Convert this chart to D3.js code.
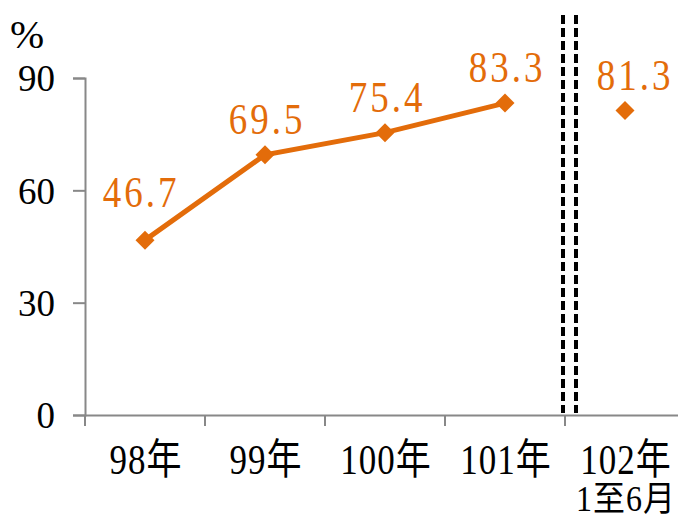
<!DOCTYPE html>
<html>
<head>
<meta charset="utf-8">
<script src="https://cdn.jsdelivr.net/npm/d3@7"></script>
<style>
  body { margin: 0; background: #fff; }
</style>
</head>
<body>
<div id="chart"></div>
<script>
// data
var categories = ["98年", "99年", "100年", "101年", "102年"];
var subLabels = ["", "", "", "", "1至6月"];
var values = [46.7, 69.5, 75.4, 83.3, 81.3];
var yTicks = [0, 30, 60, 90];

var width = 678, height = 522;
var margin = { top: 78, right: -7, bottom: 107, left: 85 };
var orange = "#E36C0A";
var serif = "'Liberation Serif', 'Noto Sans CJK TC', serif";

var svg = d3.select("#chart").append("svg")
    .attr("width", width)
    .attr("height", height);

var x = d3.scaleBand()
    .domain(categories)
    .range([margin.left, width - margin.right]);

var y = d3.scaleLinear()
    .domain([0, 90])
    .range([height - margin.bottom, margin.top]);

var cx = d => x(d) + x.bandwidth() / 2;

// y axis
var yAxis = svg.append("g")
    .attr("transform", "translate(" + margin.left + ",0)")
    .call(d3.axisLeft(y).tickValues(yTicks).tickSize(12).tickPadding(18));
yAxis.select(".domain").attr("stroke", "#888").attr("stroke-width", 2);
yAxis.selectAll(".tick line").attr("stroke", "#888").attr("stroke-width", 2);
yAxis.selectAll(".tick text")
    .attr("fill", "#000")
    .style("font-family", serif)
    .style("font-size", "37px")
    .attr("dy", "0.35em");

svg.append("text")
    .attr("x", 10)
    .attr("y", 48)
    .style("font-family", serif)
    .style("font-size", "41px")
    .text("%");

// x axis
var xAxis = svg.append("g")
    .attr("transform", "translate(0," + y(0) + ")")
    .call(d3.axisBottom(x).tickSize(0).tickFormat(""));
xAxis.select(".domain").attr("stroke", "#888").attr("stroke-width", 2);

var bounds = categories.map(d => x(d)).concat([x.range()[1]]);
svg.selectAll(".xtick")
    .data(bounds)
    .join("line")
    .attr("class", "xtick")
    .attr("x1", d => d).attr("x2", d => d)
    .attr("y1", y(0)).attr("y2", y(0) + 11)
    .attr("stroke", "#888")
    .attr("stroke-width", 2);

// category labels, stretched a bit to look like the tall Ming digits
svg.selectAll(".xlab")
    .data(categories)
    .join("text")
    .attr("class", "xlab")
    .attr("transform", d => "translate(" + (cx(d) + 1) + ",474) scale(1,1.2)")
    .attr("text-anchor", "middle")
    .style("font-family", serif)
    .style("font-size", "35px")
    .style("letter-spacing", "1px")
    .text(d => d);

svg.selectAll(".xlab2")
    .data(categories)
    .join("text")
    .attr("class", "xlab2")
    .attr("transform", d => "translate(" + (cx(d) + 1) + ",511) scale(1,1.1)")
    .attr("text-anchor", "middle")
    .style("font-family", serif)
    .style("font-size", "32px")
    .style("letter-spacing", "1px")
    .text((d, i) => subLabels[i]);

// double dashed separator
var sepX = x(categories[4]);
[-2, 11].forEach(function (off) {
    svg.append("line")
        .attr("x1", sepX + off).attr("x2", sepX + off)
        .attr("y1", 15).attr("y2", y(0) - 2)
        .attr("stroke", "#000")
        .attr("stroke-width", 4)
        .attr("stroke-dasharray", "9,4");
});

// line (first four years only)
var pts = values.map((v, i) => ({ c: categories[i], v: v }));
var line = d3.line()
    .x(d => cx(d.c))
    .y(d => y(d.v));

svg.append("path")
    .datum(pts.slice(0, 4))
    .attr("d", line)
    .attr("fill", "none")
    .attr("stroke", orange)
    .attr("stroke-width", 5);

svg.selectAll(".mark")
    .data(pts)
    .join("path")
    .attr("class", "mark")
    .attr("d", d3.symbol().type(d3.symbolDiamond2).size(230))
    .attr("transform", d => "translate(" + cx(d.c) + "," + y(d.v) + ")")
    .attr("fill", orange);

svg.selectAll(".vlab")
    .data(pts)
    .join("text")
    .attr("class", "vlab")
    .attr("transform", function (d, i) {
        var lx = cx(d.c) + (i == 0 ? -4 : i == 4 ? 10 : 2);
        var ly = y(d.v) - (i == 0 ? 33 : 21);
        return "translate(" + lx + "," + ly + ") scale(1,1.18)";
    })
    .attr("text-anchor", "middle")
    .attr("fill", orange)
    .style("font-family", serif)
    .style("font-size", "37px")
    .style("letter-spacing", "3px")
    .text(d => d.v.toFixed(1));
</script>
</body>
</html>
